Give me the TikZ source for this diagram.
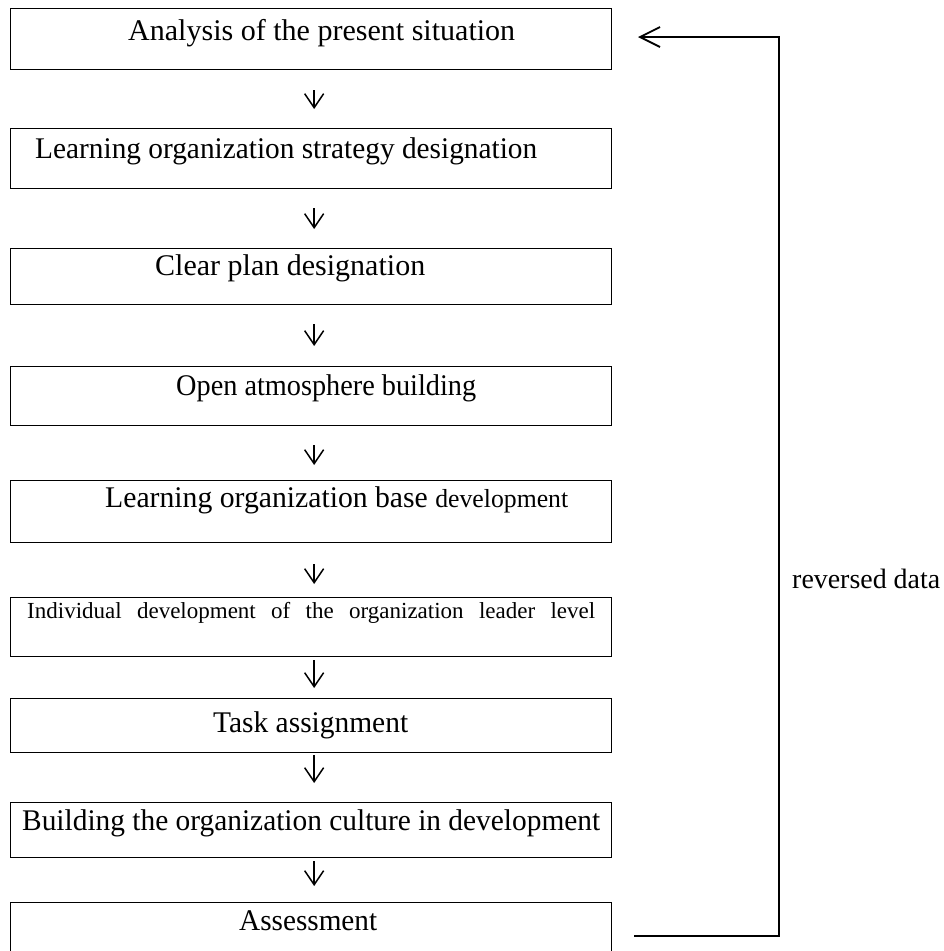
\documentclass[tikz,border=0pt]{standalone}
\usepackage{graphicx}
\usepackage{fontspec}
\setmainfont{Liberation Serif}
\usetikzlibrary{arrows.meta,calc}
\newcommand{\fitw}[2]{\resizebox{#1}{\height}{#2}}
\tikzset{
  flowbox/.style={draw, line width=1.3pt, inner sep=0pt, anchor=north west, minimum width=601pt},
  lbl/.style={anchor=base west, inner sep=0pt, font=\fontsize{30}{32}\selectfont},
  downarr/.style={line width=1.5pt, -{Straight Barb[length=14pt,width=19pt]}},
  fbarr/.style={line width=1.8pt, -{Straight Barb[length=20pt,width=20pt]}}
}
\begin{document}
\begin{tikzpicture}[x=1pt,y=-1pt]
\useasboundingbox (0,0) rectangle (943,951);
\clip (0,0) rectangle (943,951);
% boxes
\node[flowbox, minimum height=61pt] (b1) at (10,8) {};
\node[flowbox, minimum height=60pt] (b2) at (10,128) {};
\node[flowbox, minimum height=56pt] (b3) at (10,248) {};
\node[flowbox, minimum height=59pt] (b4) at (10,366) {};
\node[flowbox, minimum height=62pt] (b5) at (10,480) {};
\node[flowbox, minimum height=59pt] (b6) at (10,597) {};
\node[flowbox, minimum height=54pt] (b7) at (10,698) {};
\node[flowbox, minimum height=55pt] (b8) at (10,802) {};
\node[flowbox, minimum height=70pt] (b9) at (10,902) {};
% labels
\node[lbl] (t1) at (128,40) {\fitw{387pt}{Analysis of the present situation}};
\node[lbl] (t2) at (35,158) {\fitw{502pt}{Learning organization strategy designation}};
\node[lbl] (t3) at (155,275) {\fitw{270pt}{Clear plan designation}};
\node[lbl] (t4) at (176,395) {\fitw{300pt}{Open atmosphere building}};
\node[lbl] (t5) at (105,507) {\fitw{463pt}{Learning organization base {\fontsize{26}{28}\selectfont development}}};
\node[lbl, font=\fontsize{23}{25}\selectfont] (t6) at (27,618) {\makebox[568pt][s]{Individual development of the organization leader level}};
\node[lbl] (t7) at (213,732) {\fitw{195pt}{Task assignment}};
\node[lbl] (t8) at (22,830) {\fitw{578pt}{Building the organization culture in development}};
\node[lbl] (t9) at (239,930) {\fitw{138pt}{Assessment}};
\node[lbl, font=\fontsize{28}{30}\selectfont] (t10) at (792,588) {\fitw{148pt}{reversed data}};
% down arrows
\draw[downarr] ($(b1.south)+(3,20)$) -- ($(b2.north)+(3,-19)$);
\draw[downarr] ($(b2.south)+(3,19)$) -- ($(b3.north)+(3,-19)$);
\draw[downarr] ($(b3.south)+(3,19)$) -- ($(b4.north)+(3,-20)$);
\draw[downarr] ($(b4.south)+(3,19)$) -- ($(b5.north)+(3,-15)$);
\draw[downarr] ($(b5.south)+(3,21)$) -- ($(b6.north)+(3,-13)$);
\draw[downarr] ($(b6.south)+(3,3)$) -- ($(b7.north)+(3,-10)$);
\draw[downarr] ($(b7.south)+(3,2)$) -- ($(b8.north)+(3,-19)$);
\draw[downarr] ($(b8.south)+(3,3)$) -- ($(b9.north)+(3,-16)$);
% feedback loop
\coordinate (f1) at (634,936);
\coordinate (f2) at (779,936);
\coordinate (f3) at (779,37);
\coordinate (f4) at (638,37);
\draw[fbarr] (f1) -- (f2) -- (f3) -- (f4);
\end{tikzpicture}
\end{document}
